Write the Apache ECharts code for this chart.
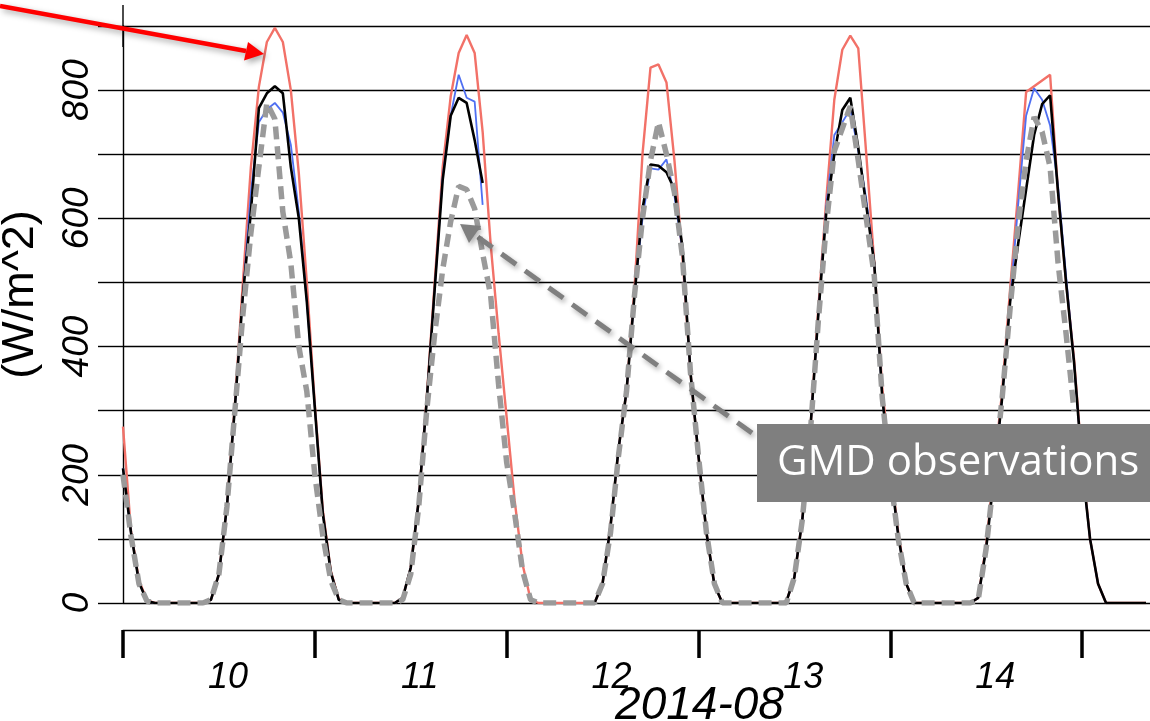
<!DOCTYPE html>
<html>
<head>
<meta charset="utf-8">
<script src="https://cdn.jsdelivr.net/npm/echarts@6/dist/echarts.min.js"></script>
<style>
  html, body { margin: 0; padding: 0; background: #ffffff; }
  #chart { width: 1150px; height: 721px; }
</style>
</head>
<body>
<div id="chart"></div>
<script>
// Hourly samples, hour 0 = 2014-08-10 00:00
const hours = Array.from({ length: 129 }, (_, i) => i);

// Axis ticks (day boundaries) and day labels placed at mid-day
const dayTicks = [0, 24, 48, 72, 96, 120];
const dayLabelPos = [12, 36, 60, 84, 108];
const dayLabels = ['10', '11', '12', '13', '14'];
const yTickLabels = ['0', '200', '400', '600', '800'];

// Downward shortwave flux (W/m^2), one row per day (hours 0-23)
const clearSky = [
  275,112,35,4,0,0,0,0,0,0,0,5,45,150,310,500,680,805,875,897,875,800,670,500,
  310,145,50,6,0,0,0,0,0,0,0,8,55,160,320,500,680,790,858,886,858,735,560,420,
  290,160,60,5,0,0,0,0,0,0,0,0,30,120,240,330,490,700,835,840,812,690,540,360,
  230,110,28,0,0,0,0,0,0,0,0,2,40,130,270,460,630,785,863,885,865,700,530,335,
  215,110,30,0,0,0,0,0,0,0,0,8,90,210,330,490,640,797,null,null,824,640,500,380,
  220,100,30,0,0,0,0,0,0
];

const modelBlue = [
  210,110,32,3,0,0,0,0,0,0,0,5,45,150,305,480,640,750,770,780,765,715,610,470,
  305,140,48,5,0,0,0,0,0,0,0,8,55,160,315,490,665,760,824,788,782,621,null,null,
  null,null,null,null,null,null,null,null,null,null,null,0,30,120,240,330,480,600,678,676,692,635,550,360,
  230,110,28,0,0,0,0,0,0,0,0,2,40,130,270,450,620,730,750,770,705,630,530,320,
  210,105,30,0,0,0,0,0,0,0,0,8,85,200,320,470,620,760,803,785,745,650,510,375,
  215,100,30,0,0,0,0,0,0
];

const modelBlack = [
  210,110,32,3,0,0,0,0,0,0,0,5,45,150,305,480,610,772,795,806,795,680,600,470,
  305,140,48,5,0,0,0,0,0,0,0,8,55,160,315,490,660,760,788,780,722,655,null,null,
  null,null,null,null,null,null,null,null,null,null,null,0,30,120,240,330,480,615,684,682,672,645,555,360,
  230,110,28,0,0,0,0,0,0,0,0,2,40,130,270,450,610,700,769,788,710,620,530,320,
  210,105,30,0,0,0,0,0,0,0,0,8,85,200,320,470,560,645,730,778,792,640,500,375,
  215,100,30,0,0,0,0,0,0
];

const gmdObs = [
  200,105,30,3,0,0,0,0,0,0,0,5,45,150,300,450,577,680,780,755,610,530,400,330,
  200,105,35,5,0,0,0,0,0,0,0,5,45,150,300,420,520,595,650,645,615,545,480,340,
  220,140,50,5,0,0,0,0,0,0,0,0,30,110,230,330,480,600,690,750,700,640,540,360,
  230,110,30,0,0,0,0,0,0,0,0,0,40,130,265,440,590,705,740,775,690,600,510,320,
  200,100,30,0,0,0,0,0,0,0,0,5,85,200,320,460,590,690,758,735,680,530,420,300,
  null,null,null,null,null,null,null,null,null
];

function pairs(values) {
  return hours.map((h, i) => [h, values[i] == null ? '-' : values[i]]);
}

const chart = echarts.init(document.getElementById('chart'), null, { renderer: 'canvas' });

const tickFont = {
  fontFamily: '"Liberation Sans", Arial, sans-serif',
  fontStyle: 'italic',
  color: '#000'
};

chart.setOption({
  animation: false,
  backgroundColor: '#ffffff',
  grid: { left: 123, right: 0, top: 26, bottom: 118, containLabel: false, outerBoundsMode: 'none' },
  xAxis: {
    type: 'value',
    min: 0,
    max: 128.5,
    interval: 12,
    offset: 27,
    name: '2014-08',
    nameLocation: 'middle',
    nameGap: 53,
    nameMoveOverlap: false,
    nameTextStyle: Object.assign({}, tickFont, { fontSize: 46, padding: [0, 0, 0, 126] }),
    axisLine: { show: true, onZero: false, lineStyle: { color: '#000', width: 1.4 } },
    axisTick: {
      show: true,
      customValues: dayTicks,
      length: 28,
      lineStyle: { color: '#000', width: 3.5 }
    },
    axisLabel: Object.assign({}, tickFont, {
      customValues: dayLabelPos,
      fontSize: 36,
      margin: 30,
      padding: [0, 0, 0, 18],
      formatter: v => dayLabels[dayLabelPos.indexOf(v)] || ''
    }),
    splitLine: { show: false }
  },
  yAxis: {
    type: 'value',
    min: 0,
    max: 900,
    interval: 100,
    name: '(W/m^2)',
    nameLocation: 'middle',
    nameGap: 80,
    nameRotate: 90,
    nameMoveOverlap: false,
    nameTextStyle: {
      fontFamily: '"Liberation Sans", Arial, sans-serif',
      fontSize: 45,
      color: '#000',
      padding: [0, 0, 0, 40]
    },
    axisLine: {
      show: true,
      symbol: ['none', 'rect'],
      symbolSize: [1.4, 42],
      lineStyle: { color: '#000', width: 1.4 }
    },
    axisTick: { show: true, length: 25, lineStyle: { color: '#000', width: 1.4 } },
    axisLabel: Object.assign({}, tickFont, {
      fontSize: 37,
      rotate: 90,
      margin: 27,
      formatter: v => (yTickLabels.indexOf(String(v)) >= 0 ? String(v) : '')
    }),
    splitLine: { show: true, lineStyle: { color: '#000', width: 1.4 } }
  },
  series: [
    {
      name: 'clear sky',
      type: 'line',
      data: pairs(clearSky),
      showSymbol: false,
      connectNulls: true,
      lineStyle: { color: '#f27168', width: 2.4 },
      z: 2
    },
    {
      name: 'model (blue)',
      type: 'line',
      data: pairs(modelBlue),
      showSymbol: false,
      lineStyle: { color: '#4f6ff2', width: 1.8 },
      z: 3
    },
    {
      name: 'model (black)',
      type: 'line',
      data: pairs(modelBlack),
      showSymbol: false,
      lineStyle: { color: '#000000', width: 2.6 },
      z: 4
    },
    {
      name: 'GMD observations',
      type: 'line',
      data: pairs(gmdObs),
      showSymbol: false,
      lineStyle: { color: '#9a9a9a', width: 5.5, type: [13, 7] },
      z: 5
    }
  ],
  graphic: [
    // red pointer toward the clear-sky peak
    {
      type: 'line', z: 100,
      shape: { x1: 0, y1: 6, x2: 246, y2: 51 },
      style: {
        stroke: '#ff0000', lineWidth: 4.5,
        shadowBlur: 6, shadowOffsetX: 3, shadowOffsetY: 3, shadowColor: 'rgba(0,0,0,0.35)'
      }
    },
    {
      type: 'polygon', z: 100,
      shape: { points: [[264, 54], [244, 60.5], [248, 42]] },
      style: {
        fill: '#ff0000',
        shadowBlur: 6, shadowOffsetX: 3, shadowOffsetY: 3, shadowColor: 'rgba(0,0,0,0.35)'
      }
    },
    // grey dashed pointer from the observation label
    {
      type: 'line', z: 100,
      shape: { x1: 752, y1: 433, x2: 475, y2: 235 },
      style: {
        stroke: '#7f7f7f', lineWidth: 5, lineDash: [18, 11],
        shadowBlur: 5, shadowOffsetX: 2, shadowOffsetY: 3, shadowColor: 'rgba(0,0,0,0.3)'
      }
    },
    {
      type: 'polygon', z: 100,
      shape: { points: [[460, 224], [481, 226], [469, 243]] },
      style: {
        fill: '#7f7f7f',
        shadowBlur: 5, shadowOffsetX: 2, shadowOffsetY: 3, shadowColor: 'rgba(0,0,0,0.3)'
      }
    },
    {
      type: 'rect', z: 100,
      shape: { x: 757, y: 424, width: 393, height: 78 },
      style: { fill: '#7f7f7f' }
    },
    {
      type: 'text', z: 101,
      x: 777, y: 463,
      style: {
        text: 'GMD observations',
        fill: '#ffffff',
        font: '42px "Open Sans", "Noto Sans", sans-serif',
        verticalAlign: 'middle',
        align: 'left'
      }
    }
  ]
});
</script>
</body>
</html>
